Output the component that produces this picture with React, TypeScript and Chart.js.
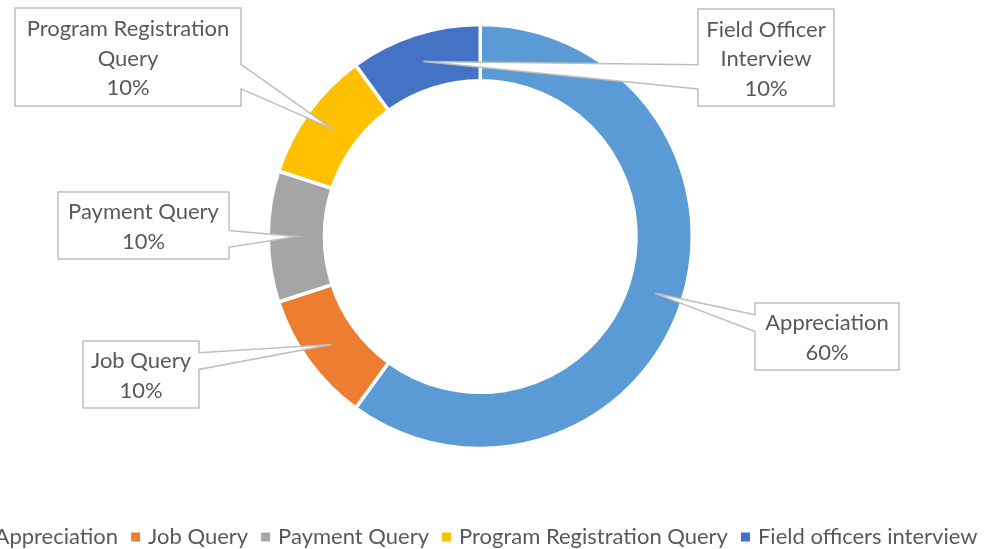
import React, { useEffect, useRef } from "react";
import { Chart, registerables } from "chart.js";

Chart.register(...registerables);

const categories = [
  "Appreciation",
  "Job Query",
  "Payment Query",
  "Program Registration Query",
  "Field officers interview",
];
const values = [60, 10, 10, 10, 10];
const calloutNames = [
  ["Appreciation"],
  ["Job Query"],
  ["Payment Query"],
  ["Program Registration", "Query"],
  ["Field Officer", "Interview"],
];
const colors = ["#5B9BD5", "#ED7D31", "#A5A5A5", "#FFC000", "#4472C4"];

// layout of callout boxes (position/size only)
const calloutBoxes = [
  { x: 755, y: 303, w: 144, h: 67 },
  { x: 83, y: 341, w: 116, h: 67 },
  { x: 58, y: 192, w: 171, h: 67 },
  { x: 15, y: 8, w: 226, h: 98 },
  { x: 698, y: 9, w: 136, h: 97 },
];

const FONT = "22px Lato, 'Open Sans', sans-serif";
const TEXT_COLOR = "#595959";
const LINE_H = 29.5;

const calloutPlugin = {
  id: "callouts",
  afterDatasetsDraw(chart: any) {
    const ctx = chart.ctx;
    const meta = chart.getDatasetMeta(0);
    const total = values.reduce((a, b) => a + b, 0);
    ctx.save();
    meta.data.forEach((arc: any, i: number) => {
      const tip = arc.tooltipPosition(true);
      const b = calloutBoxes[i];
      const cy = b.y + b.h / 2;
      const sign = tip.y >= cy ? 1 : -1;
      const by = cy + sign * 0.2 * b.h;
      const hw = 0.125 * b.h;
      ctx.beginPath();
      if (tip.x > b.x + b.w) {
        ctx.moveTo(b.x, b.y);
        ctx.lineTo(b.x + b.w, b.y);
        ctx.lineTo(b.x + b.w, by - hw);
        ctx.lineTo(tip.x, tip.y);
        ctx.lineTo(b.x + b.w, by + hw);
        ctx.lineTo(b.x + b.w, b.y + b.h);
        ctx.lineTo(b.x, b.y + b.h);
        ctx.closePath();
      } else {
        ctx.moveTo(b.x, b.y);
        ctx.lineTo(b.x + b.w, b.y);
        ctx.lineTo(b.x + b.w, b.y + b.h);
        ctx.lineTo(b.x, b.y + b.h);
        ctx.lineTo(b.x, by + hw);
        ctx.lineTo(tip.x, tip.y);
        ctx.lineTo(b.x, by - hw);
        ctx.closePath();
      }
      ctx.fillStyle = "#FFFFFF";
      ctx.fill();
      ctx.strokeStyle = "#BFBFBF";
      ctx.lineWidth = 1.5;
      ctx.stroke();

      const lines = [...calloutNames[i], Math.round((values[i] / total) * 100) + "%"];
      const pad = (b.h - lines.length * LINE_H) / 2;
      ctx.font = FONT;
      ctx.fillStyle = TEXT_COLOR;
      ctx.textAlign = "center";
      ctx.textBaseline = "middle";
      lines.forEach((t, k) => {
        ctx.fillText(t, b.x + b.w / 2, b.y + pad + (k + 0.5) * LINE_H + 1.5);
      });
    });
    ctx.restore();
  },
  afterDraw(chart: any) {
    const ctx = chart.ctx;
    ctx.save();
    ctx.font = FONT;
    const box = 9;
    const gapMT = 8;
    const gapItem = 13;
    const widths = categories.map((c) => ctx.measureText(c).width);
    const total =
      widths.reduce((a, w) => a + box + gapMT + w, 0) + gapItem * (categories.length - 1);
    let x = 477.5 - total / 2;
    const y = 537;
    ctx.textBaseline = "middle";
    ctx.textAlign = "left";
    categories.forEach((c, i) => {
      ctx.fillStyle = colors[i];
      ctx.fillRect(x, y - box / 2, box, box);
      x += box + gapMT;
      ctx.fillStyle = TEXT_COLOR;
      ctx.fillText(c, x, y);
      x += widths[i] + gapItem;
    });
    ctx.restore();
  },
};

export default function App() {
  const ref = useRef<HTMLCanvasElement>(null);
  useEffect(() => {
    const canvas = ref.current!;
    const chart = new Chart(canvas, {
      type: "doughnut",
      data: {
        labels: categories,
        datasets: [
          {
            data: values,
            backgroundColor: colors,
            borderColor: "#FFFFFF",
            borderWidth: 3.5,
            hoverBorderWidth: 3.5,
          },
        ],
      },
      options: {
        responsive: false,
        animation: false,
        devicePixelRatio: 1,
        cutout: "73.5%",
        events: [],
        layout: { padding: { left: 266.5, right: 293, top: 22.5, bottom: 98.5 } },
        plugins: {
          legend: { display: false },
          tooltip: { enabled: false },
        },
      },
      plugins: [calloutPlugin],
    });
    return () => chart.destroy();
  }, []);
  return (
    <div style={{ position: "absolute", left: 0, top: 0, width: 987, height: 549, background: "#FFFFFF" }}>
      <canvas ref={ref} width={987} height={549} style={{ display: "block" }} />
    </div>
  );
}
